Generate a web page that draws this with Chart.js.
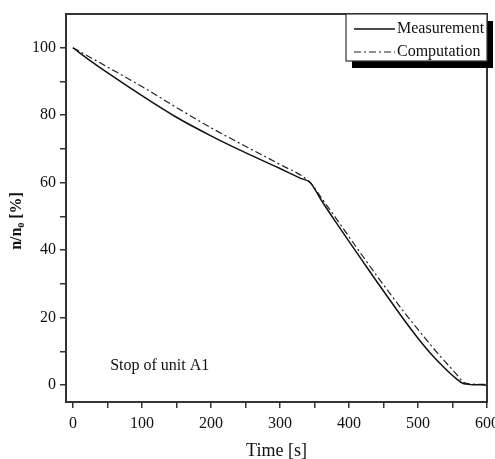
<!DOCTYPE html>
<html>
<head>
<meta charset="utf-8">
<script src="https://cdn.jsdelivr.net/npm/chart.js@4.4.1/dist/chart.umd.min.js"></script>
<style>
  html, body { margin: 0; padding: 0; background: #fff; }
  #wrap { width: 495px; height: 459px; }
</style>
</head>
<body>
<div id="wrap"><canvas id="myChart" width="495" height="459"></canvas></div>
<script>
// valores
const timeMeas = [0, 25, 50, 100, 150, 200, 250, 300, 330, 344, 360, 380, 400, 420, 440, 460, 480, 500, 520, 540, 555, 565, 570, 580, 590, 600];
const valMeas = [100, 96.2, 92.6, 85.8, 79.4, 73.9, 68.9, 64.2, 61.3, 60, 54.8, 48.6, 42.6, 36.7, 30.8, 25.0, 19.3, 13.9, 9.0, 4.8, 2.0, 0.5, 0.3, 0.1, 0.1, 0];
const timeComp = [0, 50, 100, 150, 200, 250, 300, 344, 360, 380, 400, 420, 440, 460, 480, 500, 520, 540, 555, 565, 570, 580, 590, 600];
const valComp = [100, 94.3, 88.5, 82.3, 76.3, 70.8, 65.4, 60, 55.5, 49.8, 44.0, 38.2, 32.5, 27.0, 21.6, 16.5, 11.5, 6.8, 3.4, 1.0, 0.5, 0.3, 0.2, 0.2];
const xTicks = [0, 50, 100, 150, 200, 250, 300, 350, 400, 450, 500, 550, 600];
const yTicks = [0, 10, 20, 30, 40, 50, 60, 70, 80, 90, 100];
const seriesNames = ["Measurement", "Computation"];
const annotationText = "Stop of unit A1";
const yTitle = "n/n\u2080 [%]";

const ctx = document.getElementById("myChart").getContext("2d");
const serif = "'Liberation Serif', 'Times New Roman', serif";

/*------------------------------------------
Marco del grafico, leyenda con sombra, titulo y anotacion
-------------------------------------------*/
const framePlugin = {
  id: "frame",
  afterDraw(chart) {
    const a = chart.chartArea;
    const c = chart.ctx;
    c.save();
    c.strokeStyle = "#333";
    c.lineWidth = 2;
    c.strokeRect(a.left, a.top, a.right - a.left, a.bottom - a.top);

    // leyenda
    const w = 141, h = 47;
    const lx = a.right - w, ly = a.top;
    c.fillStyle = "#000";
    c.fillRect(lx + 6, ly + 7, w, h);
    c.fillStyle = "#fff";
    c.fillRect(lx, ly, w, h);
    c.strokeStyle = "#333";
    c.lineWidth = 1.2;
    c.strokeRect(lx, ly, w, h);

    c.font = "16px " + serif;
    c.textBaseline = "middle";
    c.textAlign = "left";
    chart.data.datasets.forEach((ds, i) => {
      const y = ly + 15 + i * 23;
      c.strokeStyle = ds.borderColor;
      c.lineWidth = ds.borderWidth;
      c.setLineDash(ds.borderDash || []);
      c.beginPath();
      c.moveTo(lx + 8, y);
      c.lineTo(lx + 49, y);
      c.stroke();
      c.setLineDash([]);
      c.fillStyle = "#111";
      c.fillText(ds.label, lx + 51, y);
    });

    // anotacion
    const xs = chart.scales.x, ys = chart.scales.y;
    c.fillStyle = "#111";
    c.fillText(annotationText, xs.getPixelForValue(54), ys.getPixelForValue(5.8));

    // titulo eje y
    c.translate(17, 221);
    c.rotate(-Math.PI / 2);
    c.textAlign = "center";
    c.font = "bold 16px " + serif;
    c.fillText(yTitle, 0, 0);
    c.restore();
  },
};

const toPoints = (ts, vs) => ts.map((t, i) => ({ x: t, y: vs[i] }));

const myChart = new Chart(ctx, {
  type: "line",
  data: {
    datasets: [
      {
        label: seriesNames[0],
        data: toPoints(timeMeas, valMeas),
        borderColor: "#111",
        borderWidth: 1.5,
        pointRadius: 0,
        cubicInterpolationMode: "monotone",
      },
      {
        label: seriesNames[1],
        data: toPoints(timeComp, valComp),
        borderColor: "#222",
        borderWidth: 1.2,
        borderDash: [7, 3, 2, 3],
        pointRadius: 0,
        cubicInterpolationMode: "monotone",
      },
    ],
  },
  options: {
    responsive: false,
    animation: false,
    layout: { padding: { top: 14, right: 8, left: 0, bottom: 0 } },
    plugins: {
      legend: { display: false },
      tooltip: { enabled: false },
    },
    scales: {
      x: {
        type: "linear",
        min: -10,
        max: 600,
        afterBuildTicks: (s) => {
          s.ticks = xTicks.map((v) => ({ value: v }));
        },
        ticks: {
          autoSkip: false,
          maxRotation: 0,
          color: "#111",
          padding: 6,
          font: { family: serif, size: 16 },
          callback: (v) => (v % 100 === 0 ? v : ""),
        },
        grid: { drawOnChartArea: false, drawTicks: true, tickLength: 6, color: "#333", lineWidth: 1.5 },
        border: { display: true, color: "#333", width: 2 },
        title: {
          display: true,
          text: "Time [s]",
          color: "#111",
          font: { family: serif, size: 18, lineHeight: 0.9 },
          padding: { top: 0, bottom: 0 },
        },
        afterFit: (s) => {
          s.height = 57;
          s.paddingLeft = 0;
          s.paddingRight = 0;
        },
      },
      y: {
        min: -5,
        max: 110,
        afterBuildTicks: (s) => {
          s.ticks = yTicks.map((v) => ({ value: v }));
        },
        ticks: {
          autoSkip: false,
          color: "#111",
          padding: 4,
          font: { family: serif, size: 16 },
          callback: (v) => (v % 20 === 0 ? v : ""),
        },
        grid: { drawOnChartArea: false, drawTicks: true, tickLength: 6, color: "#333", lineWidth: 1.5 },
        border: { display: true, color: "#333", width: 2 },
        afterFit: (s) => {
          s.width = 66;
          s.paddingTop = 0;
          s.paddingBottom = 0;
        },
      },
    },
  },
  plugins: [framePlugin],
});
</script>
</body>
</html>
